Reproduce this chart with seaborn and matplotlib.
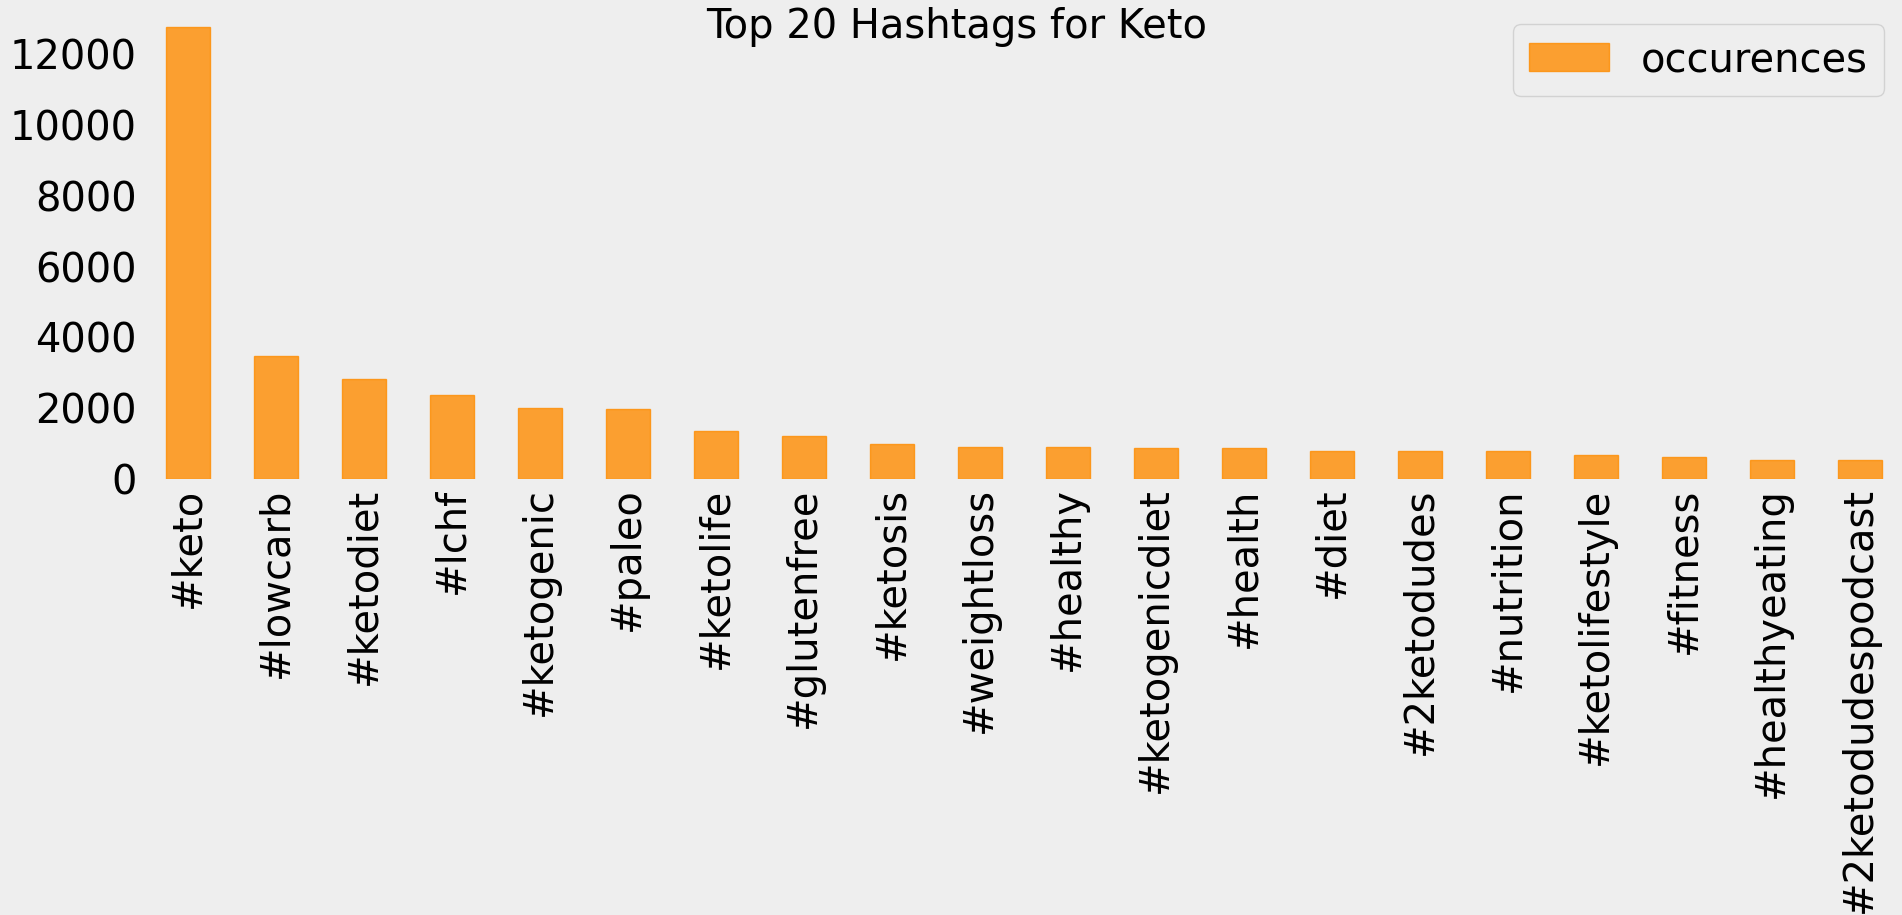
import matplotlib
matplotlib.use('Agg')
import matplotlib.pyplot as plt
from matplotlib.ticker import MultipleLocator
import pandas as pd
import seaborn as sns

# hashtag counts
hashtags = ['#keto', '#lowcarb', '#ketodiet', '#lchf', '#ketogenic', '#paleo',
            '#ketolife', '#glutenfree', '#ketosis', '#weightloss', '#healthy',
            '#ketogenicdiet', '#health', '#diet', '#2ketodudes', '#nutrition',
            '#ketolifestyle', '#fitness', '#healthyeating', '#2ketodudespodcast']
occurences = [12780, 3480, 2835, 2380, 2005, 1970,
              1365, 1225, 1000, 915, 910,
              885, 880, 800, 800, 795,
              690, 610, 540, 535]

df = pd.DataFrame({'hashtag': hashtags, 'occurences': occurences})

sns.set_theme(style='white', rc={
    'axes.facecolor': '#eeeeee',
    'figure.facecolor': '#eeeeee',
    'axes.edgecolor': '#eeeeee',
    'axes.grid': False,
    'xtick.major.size': 0,
    'ytick.major.size': 0,
    'text.color': 'black',
    'xtick.color': 'black',
    'ytick.color': 'black',
})
plt.rcParams['font.family'] = ['DejaVu Sans']

fs = 28.8
fig = plt.figure(figsize=(19.02, 9.15), dpi=100)
ax = fig.add_axes([0.0757, 1 - 479 / 915, 0.9253, 475 / 915])

sns.barplot(data=df, x='hashtag', y='occurences', ax=ax, width=0.5,
            color='darkorange', saturation=1, alpha=0.8,
            edgecolor='darkorange', linewidth=1, errorbar=None,
            label='occurences')

for s in ax.spines.values():
    s.set_visible(False)

ax.set_xlim(-0.5, len(hashtags) - 0.5)
ax.set_ylim(0, max(occurences) * 1.05)
ax.yaxis.set_major_locator(MultipleLocator(2000))
ax.set_xlabel('')
ax.set_ylabel('')
ax.tick_params(axis='x', labelsize=fs, rotation=90, pad=6)
ax.tick_params(axis='y', labelsize=fs, pad=5)
ax.set_title('Top 20 Hashtags for Keto', fontsize=fs, x=0.462, y=0.928, pad=0)
ax.legend(loc='upper right', fontsize=fs)

fig.savefig('out.png', dpi=100, facecolor=fig.get_facecolor())
